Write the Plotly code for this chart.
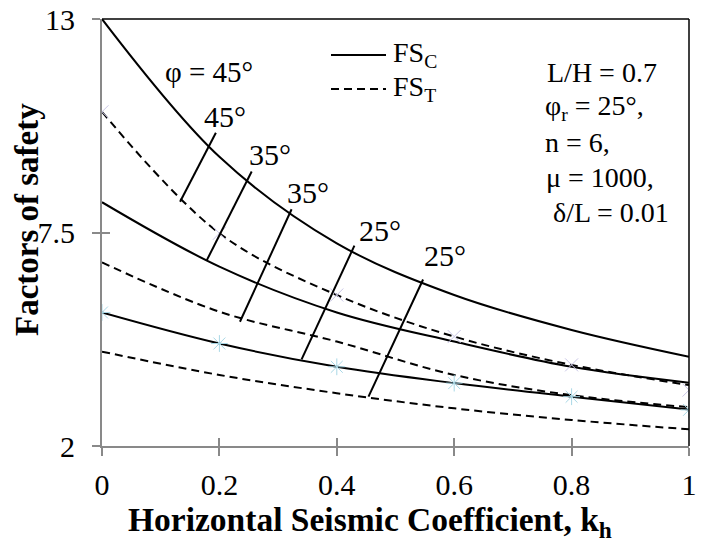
import plotly.graph_objects as go

# ---------------- data ----------------
kh = [0, 0.2, 0.4, 0.6, 0.8, 1.0]
fsc_45 = [13.0, 9.45, 7.22, 5.89, 4.99, 4.30]
fsc_35 = [8.28, 6.62, 5.44, 4.69, 4.04, 3.63]
fsc_25 = [5.44, 4.64, 4.04, 3.62, 3.27, 2.94]
fst_45 = [10.61, 7.48, 5.89, 4.82, 4.09, 3.57]
fst_35 = [6.73, 5.46, 4.69, 3.83, 3.31, 3.00]
fst_25 = [4.43, 3.83, 3.36, 2.97, 2.67, 2.43]

# light marker series (hidden-style points in the original)
mk_x = [10.61, 7.48, 5.89, 4.82, 4.09, 3.44]
mk_star = [5.44, 4.64, 4.04, 3.62, 3.27, 2.93]

# connector segments between curves (kh, FS) and their labels
conn_x = [[0.133, 0.194], [0.178, 0.255], [0.235, 0.323], [0.340, 0.430], [0.454, 0.547]]
conn_y = [[8.29, 10.07], [6.77, 9.07], [5.20, 8.10], [4.23, 7.16], [3.27, 6.29]]
lab_text = ["45°", "35°", "35°", "25°", "25°"]
lab_x = [0.21, 0.286, 0.351, 0.474, 0.584]
lab_y = [10.48, 9.50, 8.54, 7.56, 6.92]

legend_names = ["FS<sub>C</sub>", "FS<sub>T</sub>"]
params = ["L/H = 0.7", "φ<sub>r</sub> = 25°,", "n = 6,", "μ = 1000,", "δ/L = 0.01"]

x_title = "<b>Horizontal Seismic Coefficient, k<sub>h</sub></b>"
y_title = "<b>Factors of safety</b>"

FONT = "Liberation Serif"
ASZ = 28  # annotation font size

fig = go.Figure()

solid = dict(color="black", width=2)
dashed = dict(color="black", width=2, dash="8px,5px")

for ys in [fsc_45, fsc_35, fsc_25]:
    fig.add_trace(go.Scatter(x=kh, y=ys, mode="lines", line=solid, line_shape="spline",
                             name=legend_names[0], showlegend=False))
for ys in [fst_45, fst_35, fst_25]:
    fig.add_trace(go.Scatter(x=kh, y=ys, mode="lines", line=dashed, line_shape="spline",
                             name=legend_names[1], showlegend=False))

fig.add_trace(go.Scatter(x=kh, y=mk_x, mode="markers", showlegend=False,
                         marker=dict(symbol="x-thin-open", size=13, color="#c9c6e6",
                                     line=dict(width=1, color="#c9c6e6"))))
fig.add_trace(go.Scatter(x=kh, y=mk_star, mode="markers", showlegend=False,
                         marker=dict(symbol="asterisk-open", size=14, color="#a9d8e6",
                                     line=dict(width=1, color="#a9d8e6"))))

for cx, cy in zip(conn_x, conn_y):
    fig.add_trace(go.Scatter(x=cx, y=cy, mode="lines", line=dict(color="black", width=2),
                             showlegend=False))

def px2paper(xx, yy):
    return (xx - 102) / 587, 1 - (yy - 19) / 427

ann = []
ann.append(dict(x=0.182, y=11.63, xref="x", yref="y", text="φ = 45°", showarrow=False,
                font=dict(family=FONT, size=29, color="black")))
for t, x, y in zip(lab_text, lab_x, lab_y):
    ann.append(dict(x=x, y=y, xref="x", yref="y", text=t, showarrow=False,
                    font=dict(family=FONT, size=30, color="black")))
py = [72, 107, 142, 177, 212]
pxs = [545, 543, 543, 544, 551]
for t, xx, yy in zip(params, pxs, py):
    ax, ay = px2paper(xx, yy)
    ann.append(dict(x=ax, y=ay, xref="paper", yref="paper", xanchor="left", yanchor="middle",
                    text=t, showarrow=False, font=dict(family=FONT, size=ASZ, color="black")))

# axis titles
tx, ty = px2paper(370, 522)
ann.append(dict(x=tx, y=ty, xref="paper", yref="paper", xanchor="center", yanchor="middle",
                text=x_title, showarrow=False, font=dict(family=FONT, size=33.5, color="black")))
tx, ty = px2paper(27, 220)
ann.append(dict(x=tx, y=ty, xref="paper", yref="paper", xanchor="center", yanchor="middle",
                text=y_title, textangle=-90, showarrow=False,
                font=dict(family=FONT, size=33, color="black")))

# manual legend
shapes = []
leg_y = [55, 89]
leg_dash = ["solid", "8px,5px"]
for name, yy, d in zip(legend_names, leg_y, leg_dash):
    x0, y0 = px2paper(331, yy)
    x1, _ = px2paper(386, yy)
    shapes.append(dict(type="line", xref="paper", yref="paper", x0=x0, x1=x1, y0=y0, y1=y0,
                       line=dict(color="black", width=2, dash=d)))
    lx, _ = px2paper(391, yy)
    ann.append(dict(x=lx, y=y0, xref="paper", yref="paper", xanchor="left", yanchor="middle",
                    text=name, showarrow=False, font=dict(family=FONT, size=ASZ, color="black")))

shapes += [
    dict(type="line", xref="paper", yref="paper", x0=0, x1=1, y0=1, y1=1,
         line=dict(color="black", width=1.5)),
    dict(type="line", xref="paper", yref="paper", x0=1, x1=1, y0=0, y1=1,
         line=dict(color="black", width=1.5)),
]

tickv_x = [0, 0.2, 0.4, 0.6, 0.8, 1]
tickt_x = ["0", "0.2", "0.4", "0.6", "0.8", "1"]
tickv_y = [2, 7.5, 13]
tickt_y = ["2", "7.5", "13"]

fig.update_layout(
    width=702, height=542,
    margin=dict(l=102, r=13, t=19, b=96),
    paper_bgcolor="white", plot_bgcolor="white",
    font=dict(family=FONT, size=30, color="black"),
    annotations=ann,
    shapes=shapes,
    showlegend=False,
    xaxis=dict(range=[0, 1], tickvals=tickv_x, ticktext=tickt_x, automargin=False,
               showline=True, linecolor="#898989", linewidth=2, ticks="outside", ticklen=8,
               tickcolor="#898989", tickwidth=2, showgrid=False, zeroline=False,
               ticklabelstandoff=3, tickfont=dict(family=FONT, size=30)),
    yaxis=dict(range=[2, 13], tickvals=tickv_y, ticktext=tickt_y, automargin=False,
               showline=True, linecolor="#898989", linewidth=2, ticks="outside", ticklen=8,
               tickcolor="#898989", tickwidth=2, showgrid=False, zeroline=False,
               ticklabelstandoff=11, tickfont=dict(family=FONT, size=30)),
    xaxis2=dict(overlaying="x", matches="x", anchor="y", range=[0, 1], tickvals=tickv_x,
                ticks="inside", ticklen=8, tickcolor="#898989", tickwidth=2,
                showticklabels=False, showgrid=False, zeroline=False, showline=False,
                side="bottom", automargin=False),
    yaxis2=dict(overlaying="y", matches="y", anchor="x", range=[2, 13], tickvals=tickv_y,
                ticks="inside", ticklen=8, tickcolor="#898989", tickwidth=2,
                showticklabels=False, showgrid=False, zeroline=False, showline=False,
                side="left", automargin=False),
)
fig.add_trace(go.Scatter(x=[0], y=[2], xaxis="x2", yaxis="y2", mode="markers",
                         marker=dict(opacity=0), showlegend=False, hoverinfo="skip"))

fig.write_html("out.html")
